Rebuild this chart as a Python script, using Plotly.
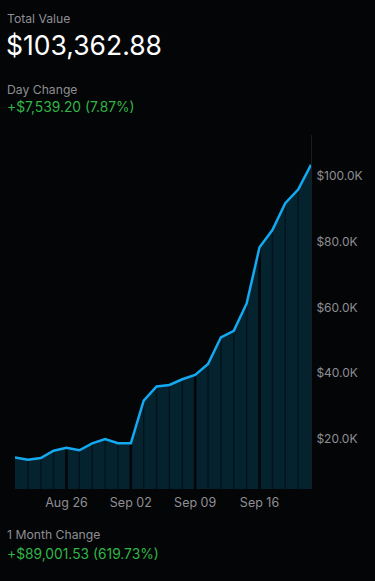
import plotly.graph_objects as go

# ---- data ----
dates = ["Aug 20", "Aug 21", "Aug 22", "Aug 23",
         "Aug 26", "Aug 27", "Aug 28", "Aug 29", "Aug 30",
         "Sep 02", "Sep 03", "Sep 04", "Sep 05", "Sep 06",
         "Sep 09", "Sep 10", "Sep 11", "Sep 12", "Sep 13",
         "Sep 16", "Sep 17", "Sep 18", "Sep 19", "Sep 20"]
values = [14361.35, 13710, 14220, 16440,
          17360, 16570, 18690, 20000, 18690,
          18690, 31640, 35990, 36410, 38150,
          39450, 42800, 50900, 52900, 61200,
          78300, 83500, 91700, 95823.68, 103362.88]
week_start_labels = ["Aug 26", "Sep 02", "Sep 09", "Sep 16"]
y_tick_vals = [20000, 40000, 60000, 80000, 100000]
y_tick_text = ["$20.0K", "$40.0K", "$60.0K", "$80.0K", "$100.0K"]

header_title = "Total Value"
header_value = "$103,362.88"
day_label = "Day Change"
day_value = "+$7,539.20 (7.87%)"
month_label = "1 Month Change"
month_value = "+$89,001.53 (619.73%)"

# ---- styles ----
BG = "#040507"
FILL = "#05222f"
SEP_THIN = "#03131b"
SEP_THICK = "#020609"
LINE = "#14aaf2"
GRAY = "#8e8e93"
GREEN = "#31b646"
FONT = "Inter, Roboto, Arial, sans-serif"

W, H = 375, 581
L, R, T, B = 15, 64, 135, 92
pw, ph = W - L - R, H - T - B

def px(x):
    return (x - L) / pw

def py(y):
    return (H - B - y) / ph

xs = list(range(len(values)))
week_idx = [dates.index(d) for d in week_start_labels]

fig = go.Figure()

fig.add_trace(go.Scatter(x=xs, y=values, mode="lines", line=dict(width=0),
                         fill="tozeroy", fillcolor=FILL, hoverinfo="skip",
                         showlegend=False))

sx, sy = [], []
for i, v in enumerate(values):
    if i == 0 or i == len(values) - 1 or i in week_idx:
        continue
    sx += [i, i, None]
    sy += [0, v, None]
fig.add_trace(go.Scatter(x=sx, y=sy, mode="lines",
                         line=dict(color=SEP_THIN, width=1.3),
                         hoverinfo="skip", showlegend=False))

wx, wy = [], []
for i in week_idx:
    wx += [i, i, None]
    wy += [0, values[i], None]
fig.add_trace(go.Scatter(x=wx, y=wy, mode="lines",
                         line=dict(color=SEP_THICK, width=2.6),
                         hoverinfo="skip", showlegend=False))

fig.add_trace(go.Scatter(x=xs, y=values, mode="lines",
                         line=dict(color=LINE, width=2.5),
                         showlegend=False))

annos = [
    (5, 18, header_title, GRAY, 12.2),
    (4, 45, header_value, "#ffffff", 26.5),
    (5, 89, day_label, GRAY, 12.2),
    (5, 107, day_value, GREEN, 13.8),
    (5, 534, month_label, GRAY, 12.2),
    (5, 554, month_value, GREEN, 13.8),
]
for x, y, t, c, s in annos:
    fig.add_annotation(x=px(x), y=py(y), xref="paper", yref="paper",
                       xanchor="left", yanchor="middle", text=t,
                       showarrow=False, font=dict(color=c, size=s, family=FONT))

fig.update_layout(
    width=W, height=H,
    margin=dict(l=L, r=R, t=T, b=B),
    paper_bgcolor=BG, plot_bgcolor=BG,
    font=dict(family=FONT, color=GRAY, size=12),
    xaxis=dict(range=[0, len(values) - 1], showgrid=False, zeroline=False,
               tickmode="array", tickvals=week_idx, ticktext=week_start_labels,
               ticks="", showline=False, ticklabelstandoff=4,
               tickfont=dict(size=12.5, color=GRAY)),
    yaxis=dict(range=[4800, 112400], side="right", showgrid=False,
               zeroline=False, tickmode="array", tickvals=y_tick_vals,
               ticktext=y_tick_text, ticks="", showline=True,
               linecolor="#1b1c1f", linewidth=1, ticklabelstandoff=2,
               automargin=False,
               tickfont=dict(size=12, color=GRAY)),
    hovermode=False,
)

fig.write_html("out.html",
               config={"displayModeBar": False, "staticPlot": True},
               post_script="document.body.style.margin='0';document.body.style.background='#040507';")
